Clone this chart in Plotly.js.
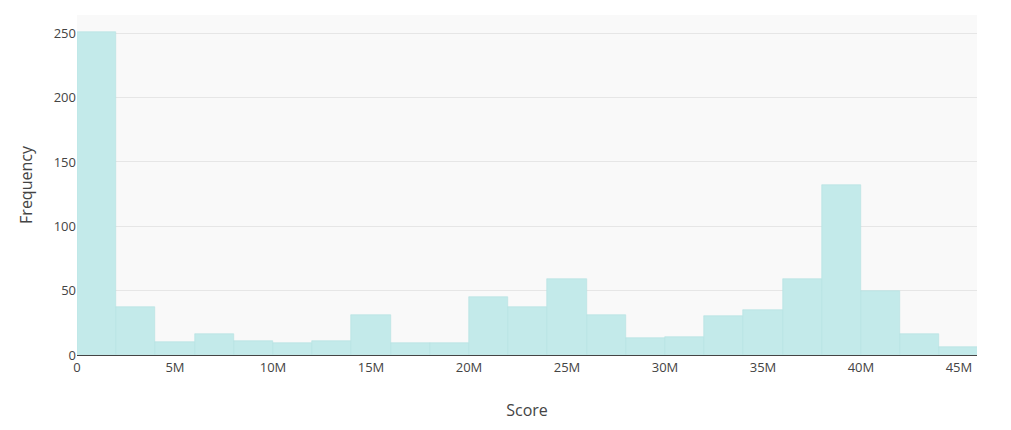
<!DOCTYPE html>
<html>
<head>
<meta charset="utf-8">
<script src="https://cdn.plot.ly/plotly-3.0.1.min.js"></script>
<style>html,body{margin:0;padding:0;background:#fff;}#chart{width:1011px;height:430px;}</style>
</head>
<body>
<div id="chart"></div>
<script>
// Histogram bins (start of each 2M-wide bin) and counts
var binStarts = [0, 2e6, 4e6, 6e6, 8e6, 10e6, 12e6, 14e6, 16e6, 18e6, 20e6, 22e6, 24e6, 26e6, 28e6, 30e6, 32e6, 34e6, 36e6, 38e6, 40e6, 42e6, 44e6];
var counts = [251, 37, 10, 16, 11, 9, 11, 31, 9, 9, 45, 37, 59, 31, 13, 14, 30, 35, 59, 132, 50, 16, 6];
var binSize = 2e6;
var xTickVals = [0, 5e6, 10e6, 15e6, 20e6, 25e6, 30e6, 35e6, 40e6, 45e6];
var xTickText = ["0", "5M", "10M", "15M", "20M", "25M", "30M", "35M", "40M", "45M"];

var centers = binStarts.map(function(s){ return s + binSize / 2; });

var trace = {
  type: 'bar',
  x: centers,
  y: counts,
  width: binSize,
  marker: {color: 'rgba(195,234,234,1)', line: {color: 'rgba(182,226,226,1)', width: 0.6}},
  hoverinfo: 'x+y'
};

var layout = {
  width: 1011, height: 430,
  margin: {l: 77, r: 34, t: 15, b: 75},
  paper_bgcolor: '#ffffff',
  plot_bgcolor: '#f9f9f9',
  font: {family: '"Open Sans", sans-serif', size: 12, color: '#444'},
  showlegend: false,
  bargap: 0,
  xaxis: {
    range: [0, 45.92e6],
    tickvals: xTickVals, ticktext: xTickText,
    showgrid: false, zeroline: false,
    showline: true, linecolor: '#444', linewidth: 1,
    ticks: '', tickfont: {size: 13, color: '#444'},
    title: {text: 'Score', font: {size: 16, color: '#444'}, standoff: 30}
  },
  yaxis: {
    range: [0, 264.2],
    dtick: 50,
    showgrid: true, gridcolor: '#e6e6e6', gridwidth: 1,
    zeroline: false, showline: false,
    ticks: '', tickfont: {size: 13, color: '#444'},
    title: {text: 'Frequency', font: {size: 16, color: '#444'}, standoff: 17}
  }
};

Plotly.newPlot('chart', [trace], layout, {displayModeBar: false, responsive: false});
</script>
</body>
</html>
